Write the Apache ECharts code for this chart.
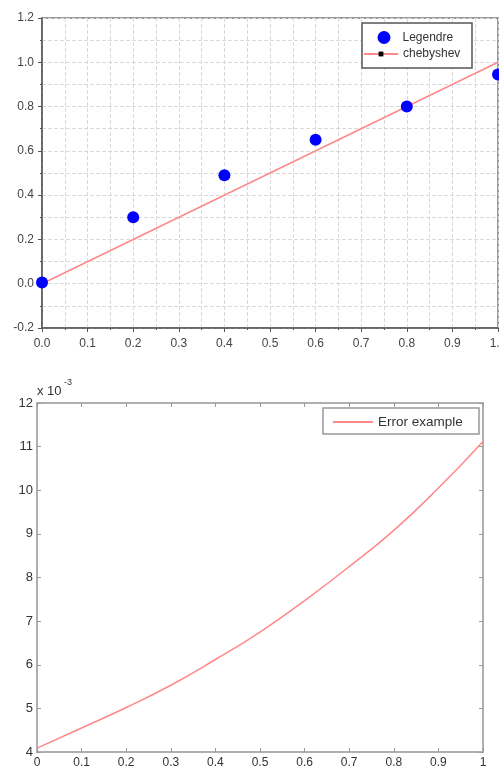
<!DOCTYPE html>
<html><head><meta charset="utf-8">
<script src="https://cdn.jsdelivr.net/npm/echarts@6/dist/echarts.min.js"></script>
<style>html,body{margin:0;padding:0;background:#fff}#c{width:499px;height:768px}</style>
</head><body><div id="c"></div>
<script>
// Top plot data
const legendreX = [0, 0.2, 0.4, 0.6, 0.8, 1.0];
const legendreY = [0.005, 0.30, 0.49, 0.65, 0.80, 0.945];
const chebyX = [0, 1];
const chebyY = [0, 1];
// Bottom plot data (values in units of 1e-3)
const errX = [0, 0.1, 0.2, 0.3, 0.4, 0.5, 0.6, 0.7, 0.8, 0.9, 1.0];
const errY = [4.09, 4.55, 5.02, 5.53, 6.12, 6.75, 7.47, 8.25, 9.08, 10.05, 11.12];
const errScaleLabel = 'x 10';
const errScaleExp = '-3';

const FONT = 'Liberation Sans, Arial, sans-serif';
const chart = echarts.init(document.getElementById('c'), null, {renderer: 'canvas'});

const gridLine = {show: true, lineStyle: {color: '#dadada', type: [4, 2], width: 1}};
const topAxisCommon = {
  type: 'value', gridIndex: 0,
  axisLine: {show: true, onZero: false, lineStyle: {color: '#555', width: 1.5}},
  axisTick: {show: true, inside: false, length: 4, lineStyle: {color: '#555'}},
  minorTick: {show: true, splitNumber: 2, length: 2, lineStyle: {color: '#555'}},
  splitLine: gridLine, minorSplitLine: gridLine,
  axisLabel: {color: '#444', fontSize: 12, fontFamily: FONT, formatter: v => v.toFixed(1)}
};
const botAxisCommon = {
  type: 'value', gridIndex: 1,
  axisLine: {show: true, onZero: false, lineStyle: {color: '#aaa', width: 1.5}},
  axisTick: {show: true, inside: true, length: 4, lineStyle: {color: '#999'}},
  splitLine: {show: false}
};
const legendBase = {orient: 'vertical', padding: 0, z: 6,
  textStyle: {color: '#333', fontSize: 12, fontFamily: FONT}};

chart.setOption({
  animation: false,
  backgroundColor: '#fff',
  grid: [
    {left: 42, top: 18, width: 456, height: 310, show: true, borderColor: '#777', borderWidth: 1.5,
      backgroundColor: '#fff', containLabel: false, outerBoundsMode: 'none'},
    {left: 37, top: 403, width: 446, height: 349, show: true, borderColor: '#aaa', borderWidth: 1.5,
      containLabel: false, outerBoundsMode: 'none'}
  ],
  xAxis: [
    Object.assign({}, topAxisCommon, {min: 0, max: 1, interval: 0.1, position: 'bottom',
      axisLabel: Object.assign({}, topAxisCommon.axisLabel, {margin: 10})}),
    Object.assign({}, botAxisCommon, {min: 0, max: 1, interval: 0.1, position: 'bottom',
      axisLabel: {color: '#333', fontSize: 12, fontFamily: FONT, margin: 5,
        formatter: v => (v === 0 || v === 1) ? String(v) : v.toFixed(1)}}),
    Object.assign({}, botAxisCommon, {min: 0, max: 1, interval: 0.1, position: 'top', axisLabel: {show: false}})
  ],
  yAxis: [
    Object.assign({}, topAxisCommon, {min: -0.2, max: 1.2, interval: 0.2, position: 'left',
      axisLabel: Object.assign({}, topAxisCommon.axisLabel, {margin: 8})}),
    Object.assign({}, botAxisCommon, {min: 4, max: 12, interval: 1, position: 'left',
      axisLabel: {color: '#333', fontSize: 13, fontFamily: FONT, margin: 4}}),
    Object.assign({}, botAxisCommon, {min: 4, max: 12, interval: 1, position: 'right', axisLabel: {show: false}})
  ],
  legend: [
    Object.assign({}, legendBase, {data: ['Legendre'], left: 377.5, top: 31, itemWidth: 13, itemHeight: 13,
      textStyle: {color: '#333', fontSize: 12, fontFamily: FONT, padding: [0, 0, 0, 7]}}),
    Object.assign({}, legendBase, {data: ['chebyshev'], left: 363, top: 48, itemWidth: 34, itemHeight: 6}),
    Object.assign({}, legendBase, {data: [{name: 'Error example', itemStyle: {opacity: 0}}], left: 332, top: 415,
      itemWidth: 40, itemHeight: 12, textStyle: {color: '#333', fontSize: 13.5, fontFamily: FONT}})
  ],
  graphic: [
    {type: 'rect', z: 5, shape: {x: 362, y: 23, width: 110, height: 45},
      style: {fill: '#fff', stroke: '#555', lineWidth: 1.5}},
    {type: 'rect', z: 5, shape: {x: 323, y: 408, width: 156, height: 26},
      style: {fill: '#fff', stroke: '#999', lineWidth: 1.5}},
    {type: 'text', left: 37, top: 385, style: {text: errScaleLabel, fontSize: 13, fontFamily: FONT, fill: '#333'}},
    {type: 'text', left: 64, top: 378, style: {text: errScaleExp, fontSize: 9, fontFamily: FONT, fill: '#333'}}
  ],
  series: [
    {name: 'chebyshev', type: 'line', xAxisIndex: 0, yAxisIndex: 0, z: 2,
      data: chebyX.map((x, i) => i === 0 ? {value: [x, chebyY[i]]} : {value: [x, chebyY[i]], symbol: 'none'}),
      symbol: 'rect', symbolSize: 6, itemStyle: {color: '#000'},
      lineStyle: {color: '#ff8888', width: 1.5}},
    {name: 'Legendre', type: 'scatter', xAxisIndex: 0, yAxisIndex: 0, z: 3,
      data: legendreX.map((x, i) => [x, legendreY[i]]),
      symbol: 'circle', symbolSize: 12, itemStyle: {color: '#0000ff', opacity: 1}},
    {name: 'Error example', type: 'line', xAxisIndex: 1, yAxisIndex: 1, smooth: true,
      data: errX.map((x, i) => [x, errY[i]]), symbol: 'none',
      itemStyle: {color: '#ff8888'}, lineStyle: {color: '#ff8888', width: 1.5}}
  ]
});
</script></body></html>
